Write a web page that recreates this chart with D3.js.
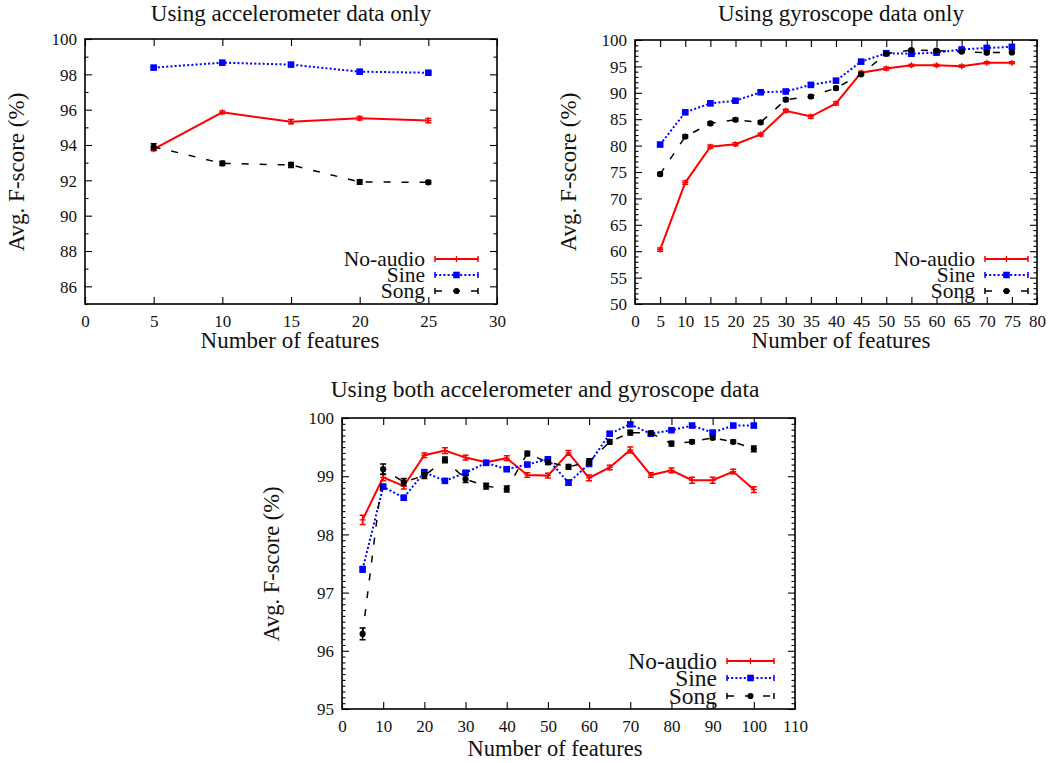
<!DOCTYPE html>
<html>
<head>
<meta charset="utf-8">
<script src="https://cdn.jsdelivr.net/npm/d3@7"></script>
<style>
  html, body { margin: 0; padding: 0; background: #fff; }
  svg text { font-family: "Liberation Serif", "DejaVu Serif", "Times New Roman", serif !important; }
</style>
</head>
<body>
<svg id="chart" width="1049" height="763"></svg>
<script>
// ---- Accelerometer only ----
const accFeatures   = [5, 10, 15, 20, 25];
const accNoAudio    = [93.76, 95.85, 95.32, 95.51, 95.38];
const accNoAudioErr = [0.08, 0.08, 0.12, 0.10, 0.12];
const accSine       = [98.38, 98.66, 98.55, 98.15, 98.09];
const accSineErr    = [0.06, 0.06, 0.06, 0.06, 0.06];
const accSong       = [93.90, 92.96, 92.87, 91.91, 91.89];
const accSongErr    = [0.17, 0.12, 0.14, 0.13, 0.10];

// ---- Gyroscope only ----
const gyroFeatures   = [5, 10, 15, 20, 25, 30, 35, 40, 45, 50, 55, 60, 65, 70, 75];
const gyroNoAudio    = [60.3, 73.0, 79.8, 80.25, 82.1, 86.6, 85.5, 88.0, 93.8, 94.6, 95.2, 95.2, 95.05, 95.7, 95.7];
const gyroNoAudioErr = [0.3, 0.3, 0.3, 0.3, 0.3, 0.3, 0.3, 0.3, 0.3, 0.3, 0.2, 0.2, 0.2, 0.2, 0.2];
const gyroSine       = [80.2, 86.3, 88.0, 88.5, 90.1, 90.25, 91.5, 92.3, 95.9, 97.5, 97.4, 97.6, 98.2, 98.5, 98.7];
const gyroSineErr    = [0.3, 0.3, 0.3, 0.3, 0.3, 0.3, 0.3, 0.3, 0.2, 0.2, 0.2, 0.2, 0.2, 0.2, 0.2];
const gyroSong       = [74.6, 81.7, 84.2, 84.9, 84.4, 88.7, 89.3, 90.9, 93.5, 97.4, 98.1, 98.0, 97.8, 97.6, 97.65];
const gyroSongErr    = [0.3, 0.3, 0.3, 0.3, 0.3, 0.3, 0.3, 0.3, 0.2, 0.2, 0.2, 0.2, 0.2, 0.2, 0.2];

// ---- Accelerometer and gyroscope ----
const bothFeatures   = [5, 10, 15, 20, 25, 30, 35, 40, 45, 50, 55, 60, 65, 70, 75, 80, 85, 90, 95, 100];
const bothNoAudio    = [98.25, 98.98, 98.83, 99.36, 99.44, 99.32, 99.24, 99.31, 99.02, 99.01,
                        99.40, 98.97, 99.15, 99.45, 99.02, 99.10, 98.93, 98.93, 99.08, 98.77];
const bothNoAudioErr = [0.08, 0.06, 0.05, 0.04, 0.05, 0.04, 0.03, 0.04, 0.04, 0.04,
                        0.04, 0.05, 0.04, 0.05, 0.04, 0.04, 0.05, 0.05, 0.04, 0.05];
const bothSine       = [97.40, 98.82, 98.63, 99.07, 98.92, 99.06, 99.23, 99.12, 99.20, 99.29,
                        98.89, 99.21, 99.73, 99.89, 99.73, 99.79, 99.87, 99.75, 99.87, 99.87];
const bothSineErr    = [0.05, 0.04, 0.04, 0.03, 0.03, 0.03, 0.03, 0.03, 0.03, 0.03,
                        0.04, 0.03, 0.03, 0.03, 0.02, 0.02, 0.02, 0.03, 0.02, 0.02];
const bothSong       = [96.29, 99.12, 98.90, 99.01, 99.28, 98.95, 98.83, 98.78, 99.39, 99.24,
                        99.16, 99.25, 99.59, 99.75, 99.74, 99.56, 99.59, 99.66, 99.59, 99.47];
const bothSongErr    = [0.10, 0.09, 0.06, 0.05, 0.05, 0.06, 0.05, 0.05, 0.04, 0.04,
                        0.04, 0.05, 0.04, 0.04, 0.03, 0.04, 0.03, 0.03, 0.03, 0.05];

// Series looks
const seriesStyle = {
  "No-audio": { color: "#ff0000", width: 2.0, dash: null,    marker: "plus" },
  "Sine":     { color: "#0000ff", width: 2.0, dash: "2,2.2", marker: "square" },
  "Song":     { color: "#000000", width: 1.5, dash: "7,11",  marker: "circle" }
};

const FONT = "'Liberation Serif', 'DejaVu Serif', serif";
const svg = d3.select("#chart");
const TICK_FONT = 17;

function zipSeries(xs, vs, es) {
  return xs.map((x, i) => ({ x: x, v: vs[i], e: es[i] }));
}

function drawMarker(g, type, cx, cy, color) {
  if (type === "plus") {
    g.append("path").attr("d", `M${cx - 3},${cy}H${cx + 3}M${cx},${cy - 3}V${cy + 3}`)
      .attr("stroke", color).attr("stroke-width", 1.3).attr("fill", "none");
  } else if (type === "square") {
    g.append("rect").attr("x", cx - 3.3).attr("y", cy - 3.3).attr("width", 6.6).attr("height", 6.6)
      .attr("fill", color);
  } else {
    g.append("circle").attr("cx", cx).attr("cy", cy).attr("r", 3.1).attr("fill", color);
  }
}

function drawPanel(p) {
  const x = d3.scaleLinear().domain(p.xDomain).range([p.left, p.right]);
  const y = d3.scaleLinear().domain(p.yDomain).range([p.bottom, p.top]);
  const g = svg.append("g");

  // minor y ticks (left and right, inward)
  if (p.yMinor) {
    g.append("g").attr("transform", `translate(${p.left},0)`)
      .call(d3.axisLeft(y).tickValues(p.yMinor).tickSize(-3.5).tickFormat(""));
    g.append("g").attr("transform", `translate(${p.right},0)`)
      .call(d3.axisRight(y).tickValues(p.yMinor).tickSize(-3.5).tickFormat(""));
  }

  // major ticks, labelled on bottom and left, mirrored on top and right
  const xb = g.append("g").attr("transform", `translate(0,${p.bottom})`)
    .call(d3.axisBottom(x).tickValues(p.xTicks).tickSize(-7).tickFormat(d3.format("d")));
  xb.selectAll("text").attr("y", 23).attr("dy", null);
  g.append("g").attr("transform", `translate(0,${p.top})`)
    .call(d3.axisTop(x).tickValues(p.xTicks).tickSize(-7).tickFormat(""));
  const yl = g.append("g").attr("transform", `translate(${p.left},0)`)
    .call(d3.axisLeft(y).tickValues(p.yTicks).tickSize(-7).tickFormat(d3.format("d")));
  yl.selectAll("text").attr("x", -8).attr("dy", "0.34em");
  g.append("g").attr("transform", `translate(${p.right},0)`)
    .call(d3.axisRight(y).tickValues(p.yTicks).tickSize(-7).tickFormat(""));

  g.selectAll(".domain").remove();
  g.selectAll("g").attr("font-family", FONT);
  g.selectAll(".tick line").attr("stroke", "#000").attr("stroke-width", 1.1);
  g.selectAll(".tick text").attr("font-family", FONT)
    .attr("font-size", TICK_FONT).attr("fill", "#111");

  // frame
  g.append("rect").attr("x", p.left).attr("y", p.top)
    .attr("width", p.right - p.left).attr("height", p.bottom - p.top)
    .attr("fill", "none").attr("stroke", "#000").attr("stroke-width", 1.6);

  // title and axis labels
  g.append("text").attr("x", p.titleX).attr("y", p.titleY).attr("text-anchor", "middle")
    .attr("font-family", FONT).attr("font-size", p.titleFont).attr("fill", "#111").text(p.title);
  g.append("text").attr("x", p.xLabelX).attr("y", p.xLabelY).attr("text-anchor", "middle")
    .attr("font-family", FONT).attr("font-size", p.labelFont).attr("fill", "#111")
    .text("Number of features");
  g.append("text").attr("transform", `translate(${p.yLabelX},${p.yLabelY}) rotate(-90)`)
    .attr("text-anchor", "middle").attr("font-family", FONT).attr("font-size", p.labelFont)
    .attr("fill", "#111").text("Avg. F-score (%)");

  const line = d3.line().x(d => x(d.x)).y(d => y(d.v));

  // series
  p.series.forEach((s, si) => {
    const st = seriesStyle[s.name];
    const sg = g.append("g");
    sg.append("path").datum(s.data).attr("d", line)
      .attr("fill", "none").attr("stroke", st.color).attr("stroke-width", st.width)
      .attr("stroke-dasharray", st.dash);
    s.data.forEach(d => {
      const cx = x(d.x), y1 = y(d.v - d.e), y2 = y(d.v + d.e);
      sg.append("path")
        .attr("d", `M${cx},${y1}V${y2}M${cx - 3},${y1}H${cx + 3}M${cx - 3},${y2}H${cx + 3}`)
        .attr("stroke", st.color).attr("stroke-width", 1.5).attr("fill", "none");
      drawMarker(sg, st.marker, cx, y(d.v), st.color);
    });

    // legend entry
    const ly = p.legendRows[si];
    g.append("text").attr("x", p.legendTextX).attr("y", ly).attr("dy", "0.33em")
      .attr("text-anchor", "end").attr("font-family", FONT).attr("font-size", p.legendFont)
      .attr("fill", "#111").text(s.name);
    const lx1 = p.legendX1, lx2 = p.legendX2;
    g.append("path").attr("d", `M${lx1},${ly}H${lx2}`)
      .attr("stroke", st.color).attr("stroke-width", st.width).attr("fill", "none")
      .attr("stroke-dasharray", st.dash);
    g.append("path").attr("d", `M${lx1},${ly - 3}V${ly + 3}M${lx2},${ly - 3}V${ly + 3}`)
      .attr("stroke", st.color).attr("stroke-width", 1.5);
    drawMarker(g, st.marker, (lx1 + lx2) / 2, ly, st.color);
  });
}

drawPanel({
  left: 85, right: 497, top: 39, bottom: 304,
  xDomain: [0, 30], yDomain: [85, 100],
  xTicks: d3.range(0, 31, 5), yTicks: d3.range(86, 101, 2), yMinor: d3.range(85, 100, 2),
  title: "Using accelerometer data only", titleX: 291, titleY: 21, titleFont: 23,
  xLabelX: 290, xLabelY: 348, yLabelX: 24, yLabelY: 172, labelFont: 23,
  legendTextX: 425, legendX1: 435, legendX2: 478, legendRows: [259, 275, 291], legendFont: 21.5,
  series: [
    { name: "No-audio", data: zipSeries(accFeatures, accNoAudio, accNoAudioErr) },
    { name: "Sine",     data: zipSeries(accFeatures, accSine, accSineErr) },
    { name: "Song",     data: zipSeries(accFeatures, accSong, accSongErr) }
  ]
});

drawPanel({
  left: 635, right: 1037, top: 40, bottom: 304,
  xDomain: [0, 80], yDomain: [50, 100],
  xTicks: d3.range(0, 81, 5), yTicks: d3.range(50, 101, 5),
  yMinor: d3.range(51, 100, 1).filter(v => v % 5 !== 0),
  title: "Using gyroscope data only", titleX: 841, titleY: 21, titleFont: 23,
  xLabelX: 841, xLabelY: 348, yLabelX: 576, yLabelY: 172, labelFont: 23,
  legendTextX: 975, legendX1: 985, legendX2: 1028, legendRows: [259, 275, 291], legendFont: 21.5,
  series: [
    { name: "No-audio", data: zipSeries(gyroFeatures, gyroNoAudio, gyroNoAudioErr) },
    { name: "Sine",     data: zipSeries(gyroFeatures, gyroSine, gyroSineErr) },
    { name: "Song",     data: zipSeries(gyroFeatures, gyroSong, gyroSongErr) }
  ]
});

drawPanel({
  left: 342, right: 795, top: 418, bottom: 709,
  xDomain: [0, 110], yDomain: [95, 100],
  xTicks: d3.range(0, 111, 10), yTicks: d3.range(95, 101, 1),
  yMinor: d3.range(951, 1000, 1).filter(v => v % 10 !== 0).map(v => v / 10),
  title: "Using both accelerometer and gyroscope data", titleX: 545, titleY: 397, titleFont: 23.5,
  xLabelX: 555, xLabelY: 756, yLabelX: 279, yLabelY: 564, labelFont: 22.5,
  legendTextX: 717, legendX1: 727, legendX2: 774, legendRows: [661, 678, 696], legendFont: 23.5,
  series: [
    { name: "No-audio", data: zipSeries(bothFeatures, bothNoAudio, bothNoAudioErr) },
    { name: "Sine",     data: zipSeries(bothFeatures, bothSine, bothSineErr) },
    { name: "Song",     data: zipSeries(bothFeatures, bothSong, bothSongErr) }
  ]
});
</script>
</body>
</html>
